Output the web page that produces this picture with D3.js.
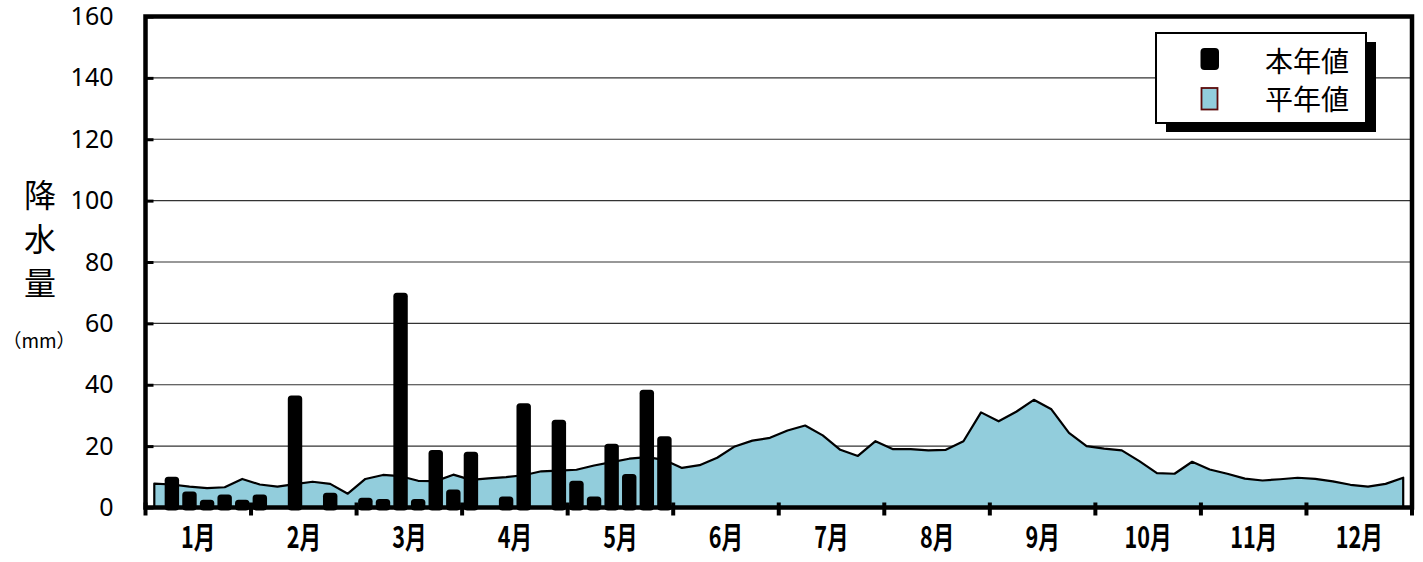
<!DOCTYPE html>
<html>
<head>
<meta charset="utf-8">
<script src="https://cdn.jsdelivr.net/npm/d3@7"></script>
<style>
  body { margin: 0; background: #fff; }
  text { font-family: "Noto Sans CJK JP", "Noto Sans", sans-serif; }
</style>
</head>
<body>
<script>
const months = ["1月", "2月", "3月", "4月", "5月", "6月", "7月", "8月", "9月", "10月", "11月", "12月"];
const yTicks = [0, 20, 40, 60, 80, 100, 120, 140, 160];

// 半旬 (5-day) precipitation, 72 per year
const thisYear = [
  0, 10, 5.2, 2.5, 4.2, 2.5, 4.2, 0, 36.5, 0,
  4.8, 0, 3.2, 2.8, 70, 2.8, 18.7, 5.9, 18.2, 0,
  3.6, 34, 0, 28.6, 8.7, 3.6, 20.8, 10.9, 38.4, 23.2
];
const normal = [
  7.8, 7.5, 6.8, 6.3, 6.6, 9.3, 7.5, 6.8, 7.6, 8.4,
  7.7, 4.5, 9.3, 10.6, 10.2, 8.7, 8.6, 10.7, 9.0, 9.5,
  9.9, 10.5, 11.8, 12.0, 12.3, 13.7, 14.8, 15.9, 16.4, 15.5,
  12.9, 13.8, 16.2, 19.9, 21.8, 22.7, 25.1, 26.7, 23.5, 18.8,
  16.8, 21.6, 19.0, 19.0, 18.6, 18.8, 21.6, 31.0, 28.1, 31.2,
  35.1, 32.0, 24.3, 20.0, 19.2, 18.6, 15.1, 11.2, 11.0, 14.9,
  12.4, 11.0, 9.4, 8.8, 9.2, 9.7, 9.3, 8.5, 7.4, 6.8,
  7.7, 9.7
];
const legendItems = ["本年値", "平年値"];

const W = 1423, H = 562;
const pl = 145.5, pr = 1412, pt = 16.5, pb = 507.5;

const svg = d3.select("body").append("svg").attr("width", W).attr("height", H);

const x = d3.scaleBand().domain(d3.range(normal.length)).range([pl, pr]).paddingInner(0.18).paddingOuter(0.09);
const xm = d3.scaleBand().domain(months).range([pl, pr]);
const y = d3.scaleLinear().domain([0, 160]).range([pb, pt]);
const cx = i => x(i) + x.bandwidth() / 2;

/* grid */
svg.append("g").selectAll("line").data(yTicks.slice(1, -1)).enter().append("line")
  .attr("x1", pl).attr("x2", pr)
  .attr("y1", d => y(d)).attr("y2", d => y(d))
  .attr("stroke", "#333").attr("stroke-width", 1.2);

/* 平年値 area */
const area = d3.area().x((d, i) => cx(i)).y0(y(0)).y1(d => y(d));
svg.append("path").datum(normal)
  .attr("d", area)
  .attr("fill", "#92CDDC").attr("stroke", "#000").attr("stroke-width", 2.2)
  .attr("stroke-linejoin", "round");

/* 本年値 bars */
const bars = thisYear.map((v, i) => ({ i, v })).filter(d => d.v > 0);
svg.append("g").selectAll("rect").data(bars).enter().append("rect")
  .attr("x", d => x(d.i))
  .attr("width", x.bandwidth())
  .attr("y", d => y(d.v))
  .attr("height", d => y(0) - y(d.v) + 3)
  .attr("rx", 3.5)
  .attr("fill", "#000");

/* frame */
svg.append("rect")
  .attr("x", pl).attr("y", pt).attr("width", pr - pl).attr("height", pb - pt)
  .attr("fill", "none").attr("stroke", "#000").attr("stroke-width", 4.5);

/* y axis */
const yAxis = svg.append("g").attr("transform", `translate(${pl},0)`)
  .call(d3.axisLeft(y).tickValues(yTicks).tickSize(-8).tickPadding(32));
yAxis.select(".domain").remove();
yAxis.selectAll(".tick line").attr("stroke", "#000").attr("stroke-width", 3);
yAxis.selectAll(".tick text")
  .attr("font-size", 25).attr("fill", "#000")
  .style("font-family", '"Noto Sans", sans-serif');

/* month boundary ticks */
const bounds = months.map(m => xm(m)).concat([pr]);
svg.append("g").selectAll("line").data(bounds).enter().append("line")
  .attr("x1", d => d).attr("x2", d => d)
  .attr("y1", pb - 5).attr("y2", pb + 8)
  .attr("stroke", "#000").attr("stroke-width", 4);

/* month labels */
const xAxis = svg.append("g").attr("transform", `translate(0,${pb})`)
  .call(d3.axisBottom(xm).tickSize(0).tickPadding(0));
xAxis.select(".domain").remove();
xAxis.selectAll(".tick text")
  .attr("y", null).attr("dy", null)
  .attr("transform", "translate(0,40) scale(0.8,1.1)")
  .attr("font-size", 27).attr("font-weight", "bold").attr("fill", "#000");

/* y title */
const title = svg.append("g").attr("font-size", 32).attr("fill", "#000").attr("text-anchor", "middle");
["降", "水", "量"].forEach((c, k) => {
  title.append("text").attr("x", 40).attr("y", 207 + k * 44).text(c);
});
svg.append("text").attr("x", 39).attr("y", 348).attr("text-anchor", "middle")
  .attr("font-size", 19).text("（mm）");

/* legend */
const lg = svg.append("g");
lg.append("rect").attr("x", 1166).attr("y", 42).attr("width", 210).attr("height", 90).attr("fill", "#000");
lg.append("rect").attr("x", 1156).attr("y", 33).attr("width", 210).attr("height", 90)
  .attr("fill", "#fff").attr("stroke", "#000").attr("stroke-width", 2);
lg.append("rect").attr("x", 1200.5).attr("y", 48).attr("width", 18.5).attr("height", 22).attr("rx", 4).attr("fill", "#000");
lg.append("rect").attr("x", 1201.5).attr("y", 88).attr("width", 16).attr("height", 21.5)
  .attr("fill", "#92CDDC").attr("stroke", "#5a0a0a").attr("stroke-width", 1.8);
lg.selectAll("text.lt").data(legendItems).enter().append("text")
  .attr("class", "lt")
  .attr("x", 1349).attr("y", (d, k) => 71.5 + k * 38.5)
  .attr("text-anchor", "end").attr("font-size", 28).attr("fill", "#000")
  .text(d => d);
</script>
</body>
</html>
